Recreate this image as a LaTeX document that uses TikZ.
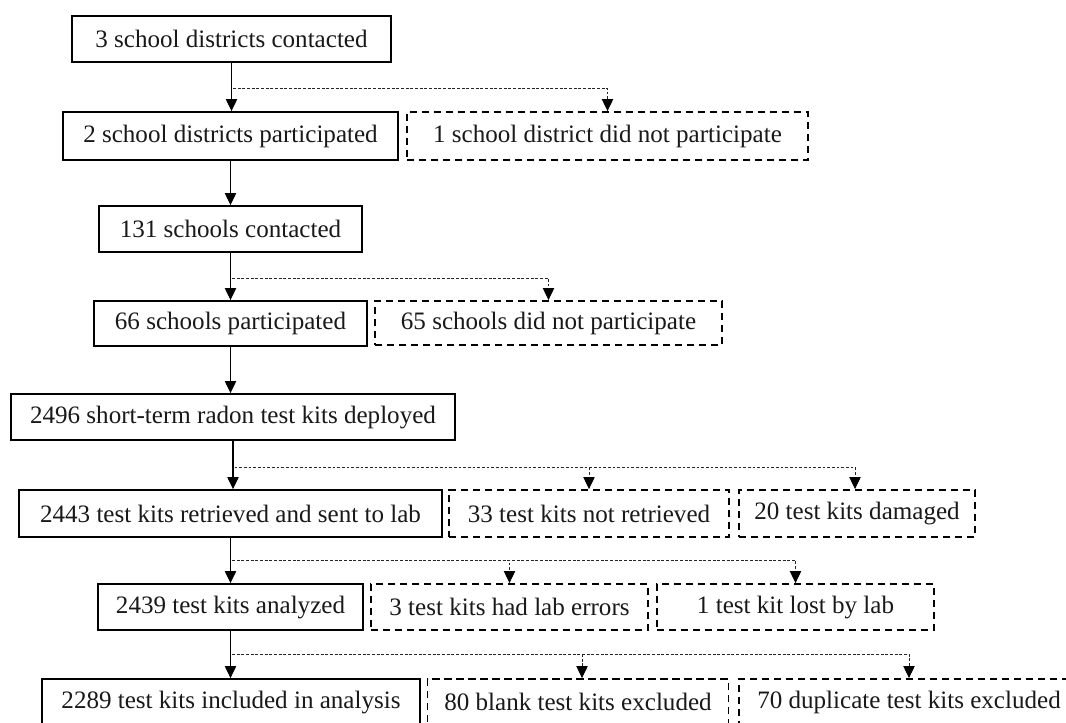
\documentclass[tikz,border=0pt]{standalone}
\usepackage{fontspec}
\setmainfont{Liberation Serif}
\usetikzlibrary{arrows.meta,calc}
\begin{document}
\begin{tikzpicture}[x=0.75pt,y=-0.75pt,
  txt/.style={font=\fontsize{18.8pt}{22pt}\selectfont, inner sep=0pt, align=center, text=black!90},
  sz/.style 2 args={minimum width=#1*0.75pt, minimum height=#2*0.75pt},
  solidbox/.style={txt, draw, line width=1.4pt},
  dashbox/.style={txt, draw, line width=1.4pt, dash pattern=on 5.5pt off 3.5pt},
  mainarrow/.style={line width=0.8pt, -{Triangle[width=8.5pt,length=9pt]}},
  branch/.style={line width=0.7pt, draw=black!85, dash pattern=on 2.2pt off 1.3pt, -{Triangle[width=8.5pt,length=9pt,color=black]}}]
\fill[white] (0,0) rectangle (1066,722);
\useasboundingbox (0,0) rectangle (1066,722);

\node[solidbox, sz={319}{46}] (b1) at (231.5,39) {3 school districts contacted};
\node[solidbox, sz={335}{48}] (b2) at (230.5,136) {2 school districts participated};
\node[dashbox, sz={401}{48}] (b3) at (607.5,136) {1 school district did not participate};
\node[solidbox, sz={263}{46}] (b4) at (230.5,229) {131 schools contacted};
\node[solidbox, sz={273}{45}] (b5) at (230.5,323.5) {66 schools participated};
\node[dashbox, sz={347}{44}] (b6) at (548.5,323) {65 schools did not participate};
\node[solidbox, sz={444}{46}] (b7) at (233,417) {2496 short-term radon test kits deployed};
\node[solidbox, sz={423}{47}] (b8) at (230.5,513.5) {2443 test kits retrieved and sent to lab};
\node[dashbox, sz={280}{47}] (b9) at (589,513.5) {33 test kits not retrieved};
\node[dashbox, sz={236}{47}] (b10) at (857,513.5) {20 test kits damaged};
\node[solidbox, sz={265}{46}] (b11) at (230.5,607) {2439 test kits analyzed};
\node[dashbox, sz={277}{46}] (b12) at (509.5,607) {3 test kits had lab errors};
\node[dashbox, sz={277}{46}] (b13) at (795.5,607) {1 test kit lost by lab};
\node[solidbox, sz={378}{46}] (b14) at (231,702) {2289 test kits included in analysis};
\node[dashbox, sz={301}{46}] (b15) at (578,702) {80 blank test kits excluded};
\node[dashbox, sz={340}{46}] (b16) at (909,702) {70 duplicate test kits excluded};

% main flow
\draw[mainarrow] (b1.south) -- (b1.south |- b2.north);
\draw[mainarrow] (b2.south) -- (b2.south |- b4.north);
\draw[mainarrow] (b4.south) -- (b4.south |- b5.north);
\draw[mainarrow] (b5.south) -- (b5.south |- b7.north);
\draw[mainarrow] (b7.south) -- (b7.south |- b8.north);
\draw[mainarrow] (b8.south) -- (b8.south |- b11.north);
\draw[mainarrow] (b11.south) -- (b11.south |- b14.north);

% branch junctions
\coordinate (j1) at ($(b1.south |- 0,88)+(1.5,0)$);
\coordinate (j2) at ($(b4.south |- 0,278)+(1.5,0)$);
\coordinate (j3) at ($(b7.south |- 0,467)+(1.5,0)$);
\coordinate (j4) at ($(b8.south |- 0,560)+(1.5,0)$);
\coordinate (j5) at ($(b11.south |- 0,654)+(1.5,0)$);

\draw[branch] (j1) -| (b3.north);
\draw[branch] (j2) -| (b6.north);
\draw[branch] (j3) -| (b9.north);
\draw[branch] (j3) -| ([xshift=-1.5pt]b10.north);
\draw[branch] (j4) -| (b12.north);
\draw[branch] (j4) -| (b13.north);
\draw[branch] (j5) -| ([xshift=3pt]b15.north);
\draw[branch] (j5) -| (b16.north);
\end{tikzpicture}
\end{document}
